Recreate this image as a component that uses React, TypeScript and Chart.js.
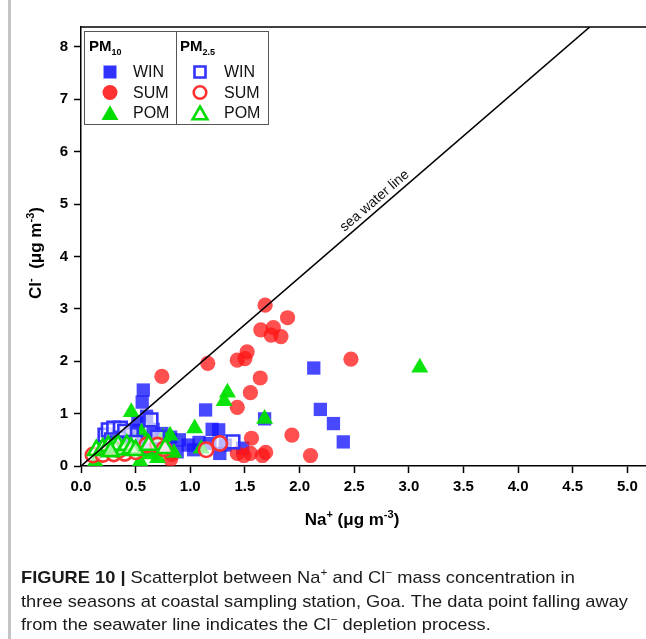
import React, { useEffect, useRef } from 'react';
import { Chart, registerables } from 'chart.js';

Chart.register(...registerables);

// ---- axis settings / tick labels ----
const xTicks = [0, 0.5, 1.0, 1.5, 2.0, 2.5, 3.0, 3.5, 4.0, 4.5, 5.0];
const yTicks = [0, 1, 2, 3, 4, 5, 6, 7, 8];
const X_MAX = 5.17;
const Y_MAX = 8.38;
const seawaterRatio = 1.8;

// ---- data (Na+, Cl-) ----
const pm10Win: [number, number][] = [
  [0.57, 1.45], [0.56, 1.22], [0.6, 0.95], [0.52, 0.82], [0.66, 0.7], [0.48, 0.68], [0.74, 0.62],
  [0.82, 0.55], [0.42, 0.52], [0.55, 0.5], [0.68, 0.45], [0.9, 0.5], [0.98, 0.4], [1.03, 0.31],
  [0.88, 0.27], [1.14, 1.07], [1.2, 0.7], [1.26, 0.69], [1.18, 0.43], [1.27, 0.24], [1.32, 0.4],
  [1.48, 0.34], [1.68, 0.9], [2.13, 1.87], [2.19, 1.08], [2.31, 0.81], [2.4, 0.46], [0.3, 0.42],
  [0.36, 0.35], [0.62, 0.32], [0.78, 0.38], [1.08, 0.45],
];
const pm25Win: [number, number][] = [
  [0.22, 0.59], [0.25, 0.69], [0.3, 0.72], [0.36, 0.72], [0.36, 0.53], [0.46, 0.6], [0.4, 0.66],
  [0.28, 0.5], [0.64, 0.88], [0.5, 0.45], [0.33, 0.44], [1.39, 0.46], [0.7, 0.55],
];
const pm10Sum: [number, number][] = [
  [1.685, 3.07], [1.89, 2.83], [1.645, 2.6], [1.76, 2.64], [1.74, 2.5], [1.83, 2.47], [1.52, 2.18],
  [1.43, 2.02], [1.5, 2.05], [2.47, 2.04], [1.16, 1.96], [0.74, 1.71], [1.64, 1.68], [1.55, 1.4],
  [1.43, 1.12], [1.56, 0.53], [1.93, 0.59], [2.1, 0.2], [1.43, 0.24], [1.49, 0.2], [1.55, 0.24],
  [1.66, 0.2], [1.69, 0.26], [0.82, 0.13], [0.83, 0.22],
];
const pm25Sum: [number, number][] = [
  [0.11, 0.21], [0.2, 0.22], [0.3, 0.23], [0.4, 0.24], [0.5, 0.27], [0.6, 0.4], [0.7, 0.4],
  [0.76, 0.33], [1.145, 0.31], [1.27, 0.43], [0.35, 0.3],
];
const pm10Pom: [number, number][] = [
  [3.1, 1.88], [1.34, 1.4], [1.31, 1.24], [1.68, 0.9], [1.04, 0.72], [0.46, 1.03], [0.815, 0.58],
  [0.75, 0.55], [0.555, 0.64], [1.1, 0.33], [0.13, 0.08], [0.54, 0.08], [0.63, 0.22], [0.85, 0.25],
  [0.3, 0.3], [0.7, 0.15],
];
const pm25Pom: [number, number][] = [
  [0.14, 0.3], [0.2, 0.33], [0.25, 0.38], [0.3, 0.36], [0.34, 0.4], [0.39, 0.31], [0.42, 0.4],
  [0.46, 0.34], [0.5, 0.3], [0.62, 0.4], [0.77, 0.34], [0.27, 0.28],
];

const BLUE = 'rgba(20,20,255,0.78)';
const BLUE_LINE = 'rgb(50,50,255)';
const RED = 'rgba(255,20,20,0.75)';
const RED_LINE = 'rgb(255,50,50)';
const GREEN = 'rgba(0,225,0,0.95)';
const GREEN_LINE = 'rgb(0,220,0)';
const HOLLOW_FILL = 'rgba(255,255,255,0.62)';
const FONT = '"Liberation Sans", Arial, Helvetica, sans-serif';

type Seg = { t: string; sup?: boolean; sub?: boolean; bold?: boolean };

function drawRich(ctx: CanvasRenderingContext2D, segs: Seg[], x: number, y: number, size: number, bold: boolean, align: 'left' | 'center') {
  const fontFor = (s: Seg) => {
    const sz = s.sup || s.sub ? Math.round(size * 0.62) : size;
    const b = s.bold !== undefined ? s.bold : bold;
    return `${b ? 'bold ' : ''}${sz}px ${FONT}`;
  };
  const widths = segs.map((s) => {
    ctx.font = fontFor(s);
    return ctx.measureText(s.t).width;
  });
  const total = widths.reduce((a, b) => a + b, 0);
  let cx = align === 'center' ? x - total / 2 : x;
  ctx.textAlign = 'left';
  ctx.textBaseline = 'alphabetic';
  segs.forEach((s, i) => {
    ctx.font = fontFor(s);
    const dy = s.sup ? -size * 0.42 : s.sub ? size * 0.28 : 0;
    ctx.fillText(s.t, cx, y + dy);
    cx += widths[i];
  });
  return total;
}

function marker(ctx: CanvasRenderingContext2D, kind: string, x: number, y: number, hollow: boolean, color: string) {
  ctx.save();
  ctx.beginPath();
  if (kind === 'rect') {
    const h = hollow ? 5.5 : 6.5;
    ctx.rect(x - h, y - h, 2 * h, 2 * h);
  } else if (kind === 'circle') {
    ctx.arc(x, y, hollow ? 6.3 : 7.5, 0, Math.PI * 2);
  } else {
    const r = hollow ? 8.5 : 9.8;
    for (let i = 0; i < 3; i++) {
      const a = -Math.PI / 2 + (i * 2 * Math.PI) / 3;
      const px = x + Math.cos(a) * r;
      const py = y + 2 + Math.sin(a) * r;
      if (i === 0) ctx.moveTo(px, py);
      else ctx.lineTo(px, py);
    }
    ctx.closePath();
  }
  if (hollow) {
    ctx.fillStyle = '#fff';
    ctx.fill();
    ctx.lineWidth = 2.6;
    ctx.strokeStyle = color;
    ctx.stroke();
  } else {
    ctx.fillStyle = color;
    ctx.fill();
  }
  ctx.restore();
}

const decorPlugin = {
  id: 'decor',
  afterDatasetsDraw(chart: any) {
    const ctx: CanvasRenderingContext2D = chart.ctx;
    const { chartArea } = chart;
    const xs = chart.scales.x;
    const ys = chart.scales.y;
    ctx.save();
    // top frame line
    ctx.strokeStyle = '#000';
    ctx.lineWidth = 1.5;
    ctx.beginPath();
    ctx.moveTo(chartArea.left, chartArea.top);
    ctx.lineTo(chartArea.right + 2, chartArea.top);
    ctx.stroke();

    // sea water line label
    const lx = 2.74;
    const px = xs.getPixelForValue(lx);
    const py = ys.getPixelForValue(lx * seawaterRatio);
    const p2x = xs.getPixelForValue(lx + 1);
    const p2y = ys.getPixelForValue((lx + 1) * seawaterRatio);
    const ang = Math.atan2(p2y - py, p2x - px);
    ctx.translate(px, py);
    ctx.rotate(ang);
    ctx.fillStyle = '#111';
    ctx.font = `14px ${FONT}`;
    ctx.textAlign = 'center';
    ctx.textBaseline = 'alphabetic';
    ctx.fillText('sea water line', 0, -5);
    ctx.restore();
  },
  afterDraw(chart: any) {
    const ctx: CanvasRenderingContext2D = chart.ctx;
    ctx.save();
    // page border on the left
    ctx.fillStyle = '#c4c4c4';
    ctx.fillRect(8, 0, 3, 639);

    ctx.fillStyle = '#000';
    // x axis title
    drawRich(ctx, [{ t: 'Na' }, { t: '+', sup: true }, { t: ' (μg m' }, { t: '-3', sup: true }, { t: ')' }], 352, 525, 17, true, 'center');
    // y axis title
    ctx.save();
    ctx.translate(41, 253);
    ctx.rotate(-Math.PI / 2);
    drawRich(ctx, [{ t: 'Cl' }, { t: '-', sup: true }, { t: '  (μg m' }, { t: '-3', sup: true }, { t: ')' }], 0, 0, 17, true, 'center');
    ctx.restore();

    // legend
    const L = 84, T = 31, R = 268, B = 124, M = 176;
    ctx.fillStyle = '#fff';
    ctx.fillRect(L, T, R - L, B - T);
    ctx.strokeStyle = '#555';
    ctx.lineWidth = 1;
    ctx.strokeRect(L + 0.5, T + 0.5, R - L, B - T);
    ctx.beginPath();
    ctx.moveTo(M + 0.5, T);
    ctx.lineTo(M + 0.5, B);
    ctx.stroke();
    ctx.fillStyle = '#000';
    drawRich(ctx, [{ t: 'PM' }, { t: '10', sub: true }], 89, 51, 15, true, 'left');
    drawRich(ctx, [{ t: 'PM' }, { t: '2.5', sub: true }], 180, 51, 15, true, 'left');
    const rows = [
      { y: 72, label: 'WIN', kind: 'rect', color: BLUE_LINE },
      { y: 92.5, label: 'SUM', kind: 'circle', color: RED_LINE },
      { y: 113, label: 'POM', kind: 'triangle', color: GREEN_LINE },
    ];
    rows.forEach((r) => {
      marker(ctx, r.kind, 110, r.y, false, r.color);
      marker(ctx, r.kind, 200, r.y, true, r.color);
      ctx.fillStyle = '#111';
      ctx.font = `16px ${FONT}`;
      ctx.textAlign = 'left';
      ctx.textBaseline = 'middle';
      ctx.fillText(r.label, 133, r.y + 1);
      ctx.fillText(r.label, 224, r.y + 1);
    });

    // caption
    const lines: Seg[][] = [
      [
        { t: 'FIGURE 10 |', bold: true },
        { t: ' Scatterplot between Na' },
        { t: '+', sup: true },
        { t: ' and Cl' },
        { t: '−', sup: true },
        { t: ' mass concentration in' },
      ],
      [{ t: 'three seasons at coastal sampling station, Goa. The data point falling away' }],
      [{ t: 'from the seawater line indicates the Cl' }, { t: '−', sup: true }, { t: ' depletion process.' }],
    ];
    ctx.font = `17px ${FONT}`;
    const w2 = ctx.measureText(lines[1][0].t).width;
    const sx = 607 / w2;
    const baselines = [583, 607, 630];
    ctx.fillStyle = '#1a1a1a';
    lines.forEach((segs, i) => {
      ctx.save();
      ctx.translate(21, baselines[i]);
      ctx.scale(sx, 1);
      drawRich(ctx, segs, 0, 0, 17, false, 'left');
      ctx.restore();
    });
    ctx.restore();
  },
};

const toPts = (arr: [number, number][]) => arr.map(([x, y]) => ({ x, y }));

export default function App() {
  const ref = useRef<HTMLCanvasElement | null>(null);
  useEffect(() => {
    if (!ref.current) return;
    const tickFont = { family: FONT, size: 15, weight: 'bold' as const };
    const chart = new Chart(ref.current, {
      type: 'scatter',
      data: {
        datasets: [
          {
            label: 'sea water line',
            data: [{ x: 0, y: 0 }, { x: Y_MAX / seawaterRatio, y: Y_MAX }],
            showLine: true,
            borderColor: '#000',
            borderWidth: 1.6,
            pointRadius: 0,
          } as any,
          { label: 'PM2.5 POM', data: toPts(pm25Pom), pointStyle: 'triangle', pointRadius: 9.5, backgroundColor: HOLLOW_FILL, borderColor: GREEN_LINE, borderWidth: 2.6 },
          { label: 'PM2.5 SUM', data: toPts(pm25Sum), pointStyle: 'circle', pointRadius: 7.2, backgroundColor: HOLLOW_FILL, borderColor: RED_LINE, borderWidth: 2.6 },
          { label: 'PM2.5 WIN', data: toPts(pm25Win), pointStyle: 'rect', pointRadius: 9, backgroundColor: HOLLOW_FILL, borderColor: BLUE_LINE, borderWidth: 2.6 },
          { label: 'PM10 POM', data: toPts(pm10Pom), pointStyle: 'triangle', pointRadius: 9.8, backgroundColor: GREEN, borderWidth: 0 },
          { label: 'PM10 SUM', data: toPts(pm10Sum), pointStyle: 'circle', pointRadius: 7.6, backgroundColor: RED, borderWidth: 0 },
          { label: 'PM10 WIN', data: toPts(pm10Win), pointStyle: 'rect', pointRadius: 9.4, backgroundColor: BLUE, borderWidth: 0 },
        ],
      },
      options: {
        responsive: true,
        maintainAspectRatio: false,
        animation: false,
        layout: { autoPadding: false, padding: { top: 27, left: 0, right: 0, bottom: 113 } },
        plugins: { legend: { display: false }, tooltip: { enabled: false } },
        scales: {
          x: {
            type: 'linear',
            min: 0,
            max: X_MAX,
            afterBuildTicks: (s: any) => {
              s.ticks = xTicks.map((v) => ({ value: v }));
            },
            afterFit: (s: any) => {
              s.height = 60;
              s.paddingLeft = 0;
              s.paddingRight = 0;
            },
            ticks: {
              callback: (v: any) => Number(v).toFixed(1),
              font: tickFont,
              color: '#000',
              padding: 5,
              maxRotation: 0,
              autoSkip: false,
            },
            grid: { drawOnChartArea: false, drawTicks: true, tickLength: 7, tickColor: '#000', tickWidth: 1.5 },
            border: { display: true, color: '#000', width: 1.5 },
          },
          y: {
            type: 'linear',
            min: 0,
            max: Y_MAX,
            afterBuildTicks: (s: any) => {
              s.ticks = yTicks.map((v) => ({ value: v }));
            },
            afterFit: (s: any) => {
              s.width = 81;
              s.paddingTop = 0;
              s.paddingBottom = 0;
            },
            ticks: {
              callback: (v: any) => String(v),
              font: tickFont,
              color: '#000',
              padding: 6,
              autoSkip: false,
            },
            grid: { drawOnChartArea: false, drawTicks: true, tickLength: 7, tickColor: '#000', tickWidth: 1.5 },
            border: { display: true, color: '#000', width: 1.5 },
          },
        },
      },
      plugins: [decorPlugin],
    });
    return () => chart.destroy();
  }, []);
  return (
    <div style={{ position: 'fixed', left: 0, top: 0, width: 646, height: 639, background: '#fff' }}>
      <canvas ref={ref} />
    </div>
  );
}
